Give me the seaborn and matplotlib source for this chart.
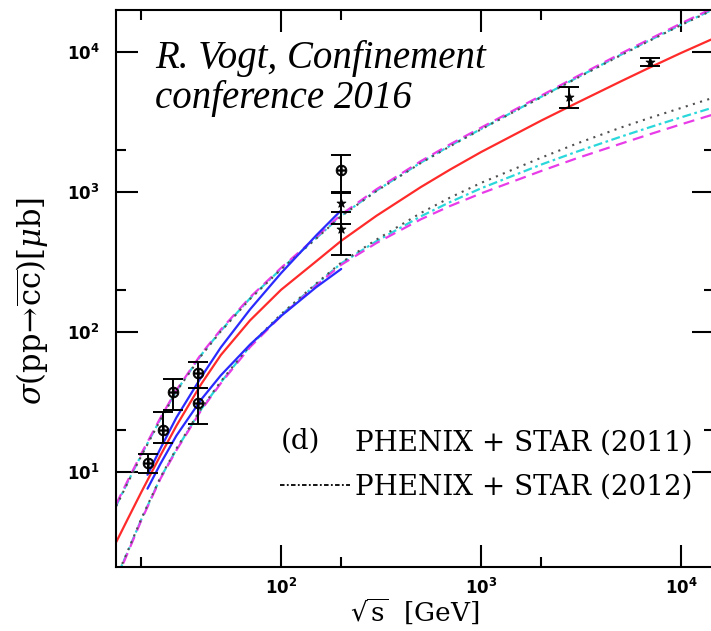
import matplotlib
matplotlib.use("Agg")
import matplotlib.pyplot as plt
import pandas as pd
import seaborn as sns
from matplotlib.lines import Line2D
from matplotlib.text import Text
from matplotlib.legend_handler import HandlerBase
from matplotlib.ticker import FixedLocator, FixedFormatter, LogLocator, NullFormatter

# ---------------------------------------------------------------------------
# Theory curves: total charm cross section sigma(pp -> c cbar) in microbarn
# ---------------------------------------------------------------------------
sqrt_s = [15, 17, 20, 25, 30, 40, 50, 70, 100, 150, 200, 300, 500, 700,
          1000, 2000, 3000, 5000, 7000, 10000, 15000]

central = [3.16, 4.52, 7.16, 13.2, 21.4, 42.7, 68.4, 121, 200, 320, 448, 676,
           1084, 1445, 1928, 3236, 4315, 6166, 7762, 9840, 12735]

# upper / lower limits of the uncertainty bands
upper_dashed = [5.9, 8.5, 13.5, 24.5, 38.5, 70, 104, 177, 287, 476, 690, 1045,
                1660, 2190, 2880, 4880, 6660, 9740, 12400, 16000, 21100]
lower_dashed = [1.70, 2.58, 4.5, 9.0, 14.3, 27.8, 43.0, 78.0, 130, 215, 302, 432,
                638, 794, 977, 1413, 1738, 2213, 2588, 3041, 3631]

upper_dashdot = [5.75, 8.3, 13.2, 24.0, 38.0, 69, 102, 174, 282, 468, 676, 1023,
                 1622, 2138, 2818, 4786, 6531, 9550, 12162, 15668, 20654]
lower_dashdot = [1.74, 2.63, 4.57, 9.12, 14.5, 28.2, 43.7, 79.4, 132, 219, 309, 445,
                 670, 847, 1062, 1570, 1936, 2483, 2904, 3412, 4074]

upper_dotted = [5.7, 8.2, 13.0, 23.7, 37.6, 68, 101, 172, 280, 465, 672, 1015,
                1610, 2120, 2800, 4750, 6480, 9480, 12080, 15560, 20500]
lower_dotted = [1.76, 2.66, 4.62, 9.2, 14.7, 28.6, 44.3, 80.5, 134, 222, 313, 457,
                708, 912, 1161, 1758, 2213, 2884, 3388, 3981, 4786]

# fitted band over the fixed-target / RHIC energy range
fit_sqrt_s = [21.5, 25, 30, 40, 50, 70, 100, 150, 200]
fit_upper = [9.55, 14.8, 24.5, 47.9, 77.6, 145, 263, 490, 741]
fit_lower = [7.6, 11.5, 18.2, 33.1, 49.0, 81.3, 130, 209, 282]

# ---------------------------------------------------------------------------
# Measurements
# ---------------------------------------------------------------------------
circ_sqrt_s = [21.6, 25.7, 28.8, 38.5, 38.5, 200]
circ_sigma = [11.6, 20.0, 37.3, 51.0, 31.0, 1440]
circ_low = [9.8, 16.0, 27.7, 40.0, 22.0, 990]
circ_high = [13.5, 26.8, 46.2, 61.0, 40.0, 1840]

star_sqrt_s = [200, 200, 2760, 7000]
star_sigma = [830, 540, 4770, 8480]
star_low = [590, 355, 3980, 7940]
star_high = [1000, 720, 5620, 9060]

# axis ticks
x_major = [100, 1000, 10000]
x_major_labels = [r"$\mathbf{10^{2}}$", r"$\mathbf{10^{3}}$", r"$\mathbf{10^{4}}$"]
y_major = [10, 100, 1000, 10000]
y_major_labels = [r"$\mathbf{10^{1}}$", r"$\mathbf{10^{2}}$",
                  r"$\mathbf{10^{3}}$", r"$\mathbf{10^{4}}$"]

# ---------------------------------------------------------------------------
sns.set_theme(style="ticks")
plt.rcParams["font.family"] = ["DejaVu Sans"]
plt.rcParams["mathtext.fontset"] = "dejavusans"
for key in ("text.color", "axes.labelcolor", "xtick.color", "ytick.color",
            "axes.edgecolor"):
    plt.rcParams[key] = "black"

fig = plt.figure(figsize=(7.11, 6.31), dpi=100)
ax = fig.add_axes([116 / 711, 64 / 631, 598 / 711, 557 / 631])

curves = pd.DataFrame({
    "sqrt_s": sqrt_s,
    "central": central,
    "upper_dashed": upper_dashed, "lower_dashed": lower_dashed,
    "upper_dashdot": upper_dashdot, "lower_dashdot": lower_dashdot,
    "upper_dotted": upper_dotted, "lower_dotted": lower_dotted,
})
fit = pd.DataFrame({"sqrt_s": fit_sqrt_s, "upper": fit_upper, "lower": fit_lower})

magenta = "#e83ce8"
cyan = "#2ad8dc"
grey = "#505050"
line_kw = dict(estimator=None, errorbar=None, legend=False, ax=ax)

for col in ("upper_dashdot", "lower_dashdot"):
    sns.lineplot(data=curves, x="sqrt_s", y=col, color=cyan, lw=1.6,
                 linestyle=(0, (4, 1.6, 1.2, 1.6)), **line_kw)
for col in ("upper_dashed", "lower_dashed"):
    sns.lineplot(data=curves, x="sqrt_s", y=col, color=magenta, lw=1.6,
                 linestyle=(0, (5, 3)), **line_kw)
for col in ("upper_dotted", "lower_dotted"):
    sns.lineplot(data=curves, x="sqrt_s", y=col, color=grey, lw=1.5,
                 linestyle=(0, (1, 2.6)), **line_kw)
for col in ("upper", "lower"):
    sns.lineplot(data=fit, x="sqrt_s", y=col, color="#2a2aff", lw=1.6, **line_kw)
sns.lineplot(data=curves, x="sqrt_s", y="central", color="#ff2a2a", lw=1.6, **line_kw)


# data with error bars
def draw_points(xs, ys, lo, hi, marker, size):
    yerr = [[y - l for y, l in zip(ys, lo)], [h - y for y, h in zip(ys, hi)]]
    ax.errorbar(xs, ys, yerr=yerr, fmt="none", ecolor="black", elinewidth=1.4,
                capsize=7, capthick=1.4, zorder=5)
    sns.scatterplot(x=xs, y=ys, marker=marker, s=size, color="black",
                    edgecolor="black", linewidth=0.6, legend=False, ax=ax, zorder=6)


draw_points(circ_sqrt_s, circ_sigma, circ_low, circ_high, r"$\oplus$", 60)
draw_points(star_sqrt_s, star_sigma, star_low, star_high, "*", 45)

ax.set_xscale("log")
ax.set_yscale("log")
ax.set_xlim(14.96, 14620)
ax.set_ylim(2.096, 19950)

ax.xaxis.set_major_locator(FixedLocator(x_major))
ax.xaxis.set_major_formatter(FixedFormatter(x_major_labels))
ax.yaxis.set_major_locator(FixedLocator(y_major))
ax.yaxis.set_major_formatter(FixedFormatter(y_major_labels))
for axis in (ax.xaxis, ax.yaxis):
    axis.set_minor_locator(LogLocator(base=10, subs=[2.0]))
    axis.set_minor_formatter(NullFormatter())

ax.tick_params(which="both", direction="in", top=True, right=True,
               color="black", width=1.5)
ax.tick_params(which="major", length=16)
ax.tick_params(which="minor", length=7)
ax.tick_params(axis="x", which="major", pad=8, labelsize=12)
ax.tick_params(axis="y", which="major", pad=12, labelsize=12)
for sp in ax.spines.values():
    sp.set_linewidth(1.5)
    sp.set_color("black")

ax.set_xlabel(r"$\sqrt{\mathrm{s}}\ \ [\mathrm{GeV}]$", fontsize=19,
              math_fontfamily="dejavuserif", labelpad=0)
ax.set_ylabel(r"$\sigma(\mathrm{pp}\!\rightarrow\!\overline{\mathrm{cc}})[\mu\mathrm{b}]$",
              fontsize=22, math_fontfamily="dejavuserif")
ax.yaxis.set_label_coords(-0.11, 0.478)

# talk reference
ax.text(0.065, 0.896, "R. Vogt, Confinement", transform=ax.transAxes,
        family="Liberation Serif", style="italic", fontsize=28, va="baseline")
ax.text(0.065, 0.824, "conference 2016", transform=ax.transAxes,
        family="Liberation Serif", style="italic", fontsize=28, va="baseline")


# legend: the first row carries the panel tag in place of a line sample
class PanelTag:
    def __init__(self, text):
        self.text = text


class PanelTagHandler(HandlerBase):
    def create_artists(self, legend, orig_handle, xdescent, ydescent,
                       width, height, fontsize, trans):
        t = Text(-xdescent, -ydescent + height / 2.0, orig_handle.text,
                 fontsize=fontsize, family="DejaVu Serif", color="black",
                 ha="left", va="center", transform=trans)
        return [t]


handles = [PanelTag("(d)"),
           Line2D([], [], color="black", lw=1.3, linestyle=(0, (2.5, 1.3, 1, 1.3)))]
labels = ["PHENIX + STAR (2011)", "PHENIX + STAR (2012)"]
ax.legend(handles, labels, handler_map={PanelTag: PanelTagHandler()},
          loc="center right", bbox_to_anchor=(0.965, 0.183), frameon=False,
          borderpad=0, borderaxespad=0, handlelength=2.5, handletextpad=0.2,
          labelspacing=0.62, labelcolor="black",
          prop={"family": "DejaVu Serif", "size": 20})

fig.savefig("out.png", dpi=100)
